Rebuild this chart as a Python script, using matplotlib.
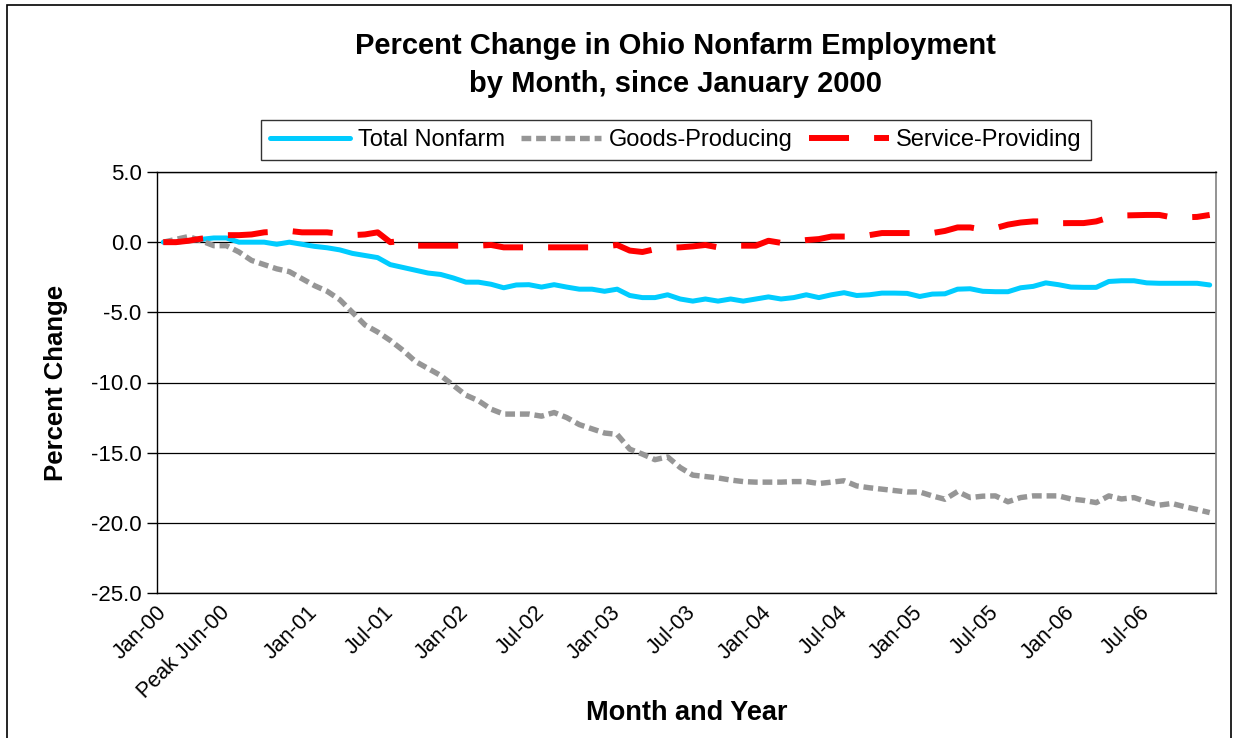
"""Percent change in Ohio nonfarm employment, Jan 2000 onward."""

import matplotlib

matplotlib.use("Agg")
import matplotlib.pyplot as plt
import matplotlib.transforms as mtransforms
import numpy as np
from matplotlib.patches import Rectangle

plt.rcParams["font.family"] = ["Liberation Sans", "DejaVu Sans"]
plt.rcParams["axes.unicode_minus"] = False

# monthly values, Jan-00 .. Dec-06 (84 months)
total_nonfarm = [
    0.0, 0.0, 0.1, 0.2, 0.3, 0.3, 0.0, 0.0, 0.0, -0.15, 0.0, -0.15,
    -0.3, -0.4, -0.55, -0.8, -0.95, -1.1, -1.6, -1.8, -2.0, -2.2, -2.3, -2.55,
    -2.85, -2.85, -3.0, -3.25, -3.05, -3.03, -3.2, -3.03, -3.2, -3.35, -3.35, -3.5,
    -3.35, -3.8, -3.95, -3.95, -3.75, -4.05, -4.2, -4.05, -4.2, -4.05, -4.2, -4.05,
    -3.9, -4.05, -3.95, -3.75, -3.95, -3.75, -3.6, -3.8, -3.75, -3.63, -3.63, -3.65,
    -3.87, -3.7, -3.68, -3.35, -3.32, -3.5, -3.53, -3.53, -3.25, -3.15, -2.9, -3.03,
    -3.2, -3.22, -3.22, -2.8, -2.75, -2.75, -2.9, -2.93, -2.93, -2.93, -2.93, -3.05,
]
goods_producing = [
    0.0, 0.2, 0.4, 0.1, -0.25, -0.25, -0.7, -1.3, -1.6, -1.9, -2.1, -2.6,
    -3.1, -3.5, -4.1, -5.0, -5.9, -6.4, -7.0, -7.7, -8.5, -9.0, -9.5, -10.2,
    -10.9, -11.3, -11.9, -12.25, -12.25, -12.25, -12.4, -12.14, -12.5, -13.0, -13.3, -13.6,
    -13.7, -14.75, -15.1, -15.5, -15.3, -16.06, -16.6, -16.7, -16.8, -16.95, -17.06, -17.1,
    -17.1, -17.1, -17.06, -17.06, -17.2, -17.1, -17.0, -17.37, -17.5, -17.6, -17.7, -17.8,
    -17.8, -18.08, -18.32, -17.77, -18.2, -18.1, -18.08, -18.5, -18.2, -18.08, -18.08, -18.08,
    -18.3, -18.4, -18.56, -18.08, -18.3, -18.2, -18.5, -18.74, -18.62, -18.85, -19.05, -19.27,
]
service_providing = [
    0.0, 0.0, 0.1, 0.25, 0.35, 0.5, 0.5, 0.55, 0.7, 0.75, 0.8, 0.7,
    0.7, 0.7, 0.6, 0.5, 0.55, 0.7, 0.0, 0.1, -0.25, -0.25, -0.25, -0.25,
    -0.25, -0.25, -0.2, -0.37, -0.37, -0.37, -0.37, -0.37, -0.37, -0.37, -0.37, -0.3,
    -0.2, -0.6, -0.7, -0.5, -0.4, -0.37, -0.3, -0.2, -0.37, -0.25, -0.25, -0.25,
    0.1, -0.05, 0.05, 0.15, 0.22, 0.4, 0.4, 0.4, 0.5, 0.65, 0.65, 0.65,
    0.65, 0.65, 0.8, 1.05, 1.05, 0.9, 1.0, 1.25, 1.4, 1.48, 1.48, 1.35,
    1.36, 1.36, 1.48, 1.75, 1.9, 1.92, 1.94, 1.94, 1.77, 1.77, 1.8, 1.94,
]
tick_months = [0, 5, 12, 18, 24, 30, 36, 42, 48, 54, 60, 66, 72, 78]
tick_labels = ["Jan-00", "Peak Jun-00", "Jan-01", "Jul-01", "Jan-02", "Jul-02", "Jan-03",
               "Jul-03", "Jan-04", "Jul-04", "Jan-05", "Jul-05", "Jan-06", "Jul-06"]
y_ticks = [5.0, 0.0, -5.0, -10.0, -15.0, -20.0, -25.0]

W, H = 1235, 738
fig = plt.figure(figsize=(W / 100, H / 100), dpi=100)
ax = fig.add_axes([157 / W, 1 - 593 / H, (1216 - 157) / W, (593 - 172) / H])

x = np.arange(len(total_nonfarm))
ax.plot(x, total_nonfarm, color="#00CCFF", lw=3.6, solid_joinstyle="round",
        solid_capstyle="round", label="Total Nonfarm", zorder=3)
ax.plot(x, goods_producing, color="#969696", lw=3.9, dashes=(1.8, 0.9),
        dash_capstyle="butt", label="Goods-Producing", zorder=4)
ax.plot(x, service_providing, color="#FF0000", lw=4.3, dashes=(6.7, 4.2),
        dash_capstyle="butt", label="Service-Providing", zorder=5)

ax.set_xlim(-0.5, len(x) - 0.5)
ax.set_ylim(-25, 5)
ax.set_yticks(y_ticks)
ax.set_yticklabels([f"{v:.1f}" for v in y_ticks], fontsize=16)
ax.set_xticks(tick_months)
ax.set_xticklabels(tick_labels, fontsize=15.5, rotation=45, ha="right",
                   va="center", rotation_mode="anchor")
shift = mtransforms.ScaledTranslation(-0.06, -0.03, fig.dpi_scale_trans)
for lbl in ax.get_xticklabels():
    lbl.set_transform(lbl.get_transform() + shift)
ax.tick_params(axis="x", length=0, pad=12)
ax.tick_params(axis="y", length=7, width=1, direction="out", pad=4)
ax.grid(axis="y", color="black", lw=0.9)
ax.set_axisbelow(True)

for side in ["left", "bottom", "top"]:
    ax.spines[side].set_color("black")
    ax.spines[side].set_linewidth(1)
ax.spines["right"].set_color("#808080")
ax.spines["right"].set_linewidth(1.2)

ax.set_xlabel("Month and Year", fontsize=19.5, fontweight="bold", va="center")
ax.xaxis.set_label_coords(0.5, (593 - 713) / 421)
ax.set_ylabel("Percent Change", fontsize=18.5, fontweight="bold", va="center")
ax.yaxis.set_label_coords((56 - 157) / 1059, 0.5)

fig.text(675 / W, 1 - 65 / H, "Percent Change in Ohio Nonfarm Employment\nby Month, since January 2000",
         ha="center", va="center", fontsize=21, fontweight="bold", linespacing=1.45)

leg = fig.legend(loc="center", bbox_to_anchor=(676 / W, 1 - 140 / H), ncol=3,
                 fontsize=17, frameon=True, fancybox=False, edgecolor="black",
                 handlelength=3.4, handletextpad=0.3, columnspacing=0.7,
                 borderpad=0.4)
leg.get_frame().set_linewidth(1)

fig.patches.append(Rectangle((7 / W, -0.05), (1231 - 7) / W, 1.05 - 5 / H,
                             transform=fig.transFigure, fill=False,
                             edgecolor="black", lw=1.2))

fig.savefig("out.png", dpi=100)
